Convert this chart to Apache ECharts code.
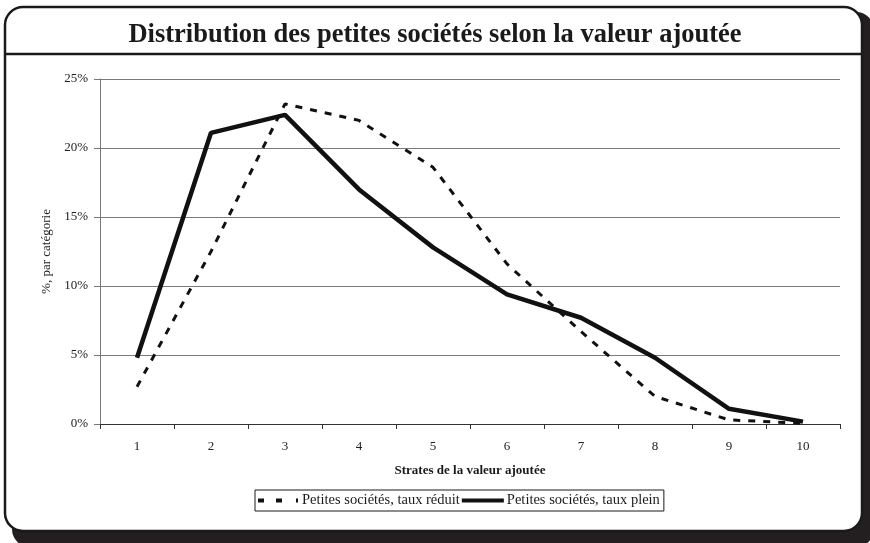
<!DOCTYPE html>
<html>
<head>
<meta charset="utf-8">
<script src="https://cdn.jsdelivr.net/npm/echarts@6/dist/echarts.min.js"></script>
<style>
  html, body { margin: 0; padding: 0; background: #fff; }
  #chart { width: 870px; height: 543px; }
</style>
</head>
<body>
<div id="chart"></div>
<script>
const categories = ['1', '2', '3', '4', '5', '6', '7', '8', '9', '10'];
const tauxReduit = [2.7, 12.5, 23.2, 22.0, 18.6, 11.6, 6.7, 2.0, 0.3, 0.05];
const tauxPlein = [4.8, 21.1, 22.4, 17.0, 12.8, 9.4, 7.7, 4.8, 1.1, 0.17];
const yTicks = { min: 0, max: 25, interval: 5 };

const serif = 'Liberation Serif, Times New Roman, serif';
const chart = echarts.init(document.getElementById('chart'));

// legend swatches: plain dashes / bar, no symbol dot
const dashIcon = 'path://M0,0H6V4H0Z M18,0H24V4H18Z M38,0H40V4H38Z';
const solidIcon = 'path://M0,0H44V4H0Z';

chart.setOption({
  animation: false,
  backgroundColor: '#fff',
  textStyle: { fontFamily: serif },
  title: {
    text: 'Distribution des petites sociétés selon la valeur ajoutée',
    left: 'center',
    top: 17,
    textStyle: { fontFamily: serif, fontSize: 26.5, fontWeight: 'bold', color: '#1a1a1a' },
  },
  graphic: [
    {
      type: 'rect',
      z: -20,
      shape: { x: 12, y: 12, width: 862, height: 535, r: 18 },
      style: { fill: '#231f20' },
    },
    {
      type: 'rect',
      z: -10,
      shape: { x: 5, y: 7, width: 857, height: 524, r: 18 },
      style: { fill: '#fff', stroke: '#1a1a1a', lineWidth: 2.5 },
    },
    {
      type: 'line',
      z: -5,
      shape: { x1: 5, y1: 54, x2: 862, y2: 54 },
      style: { stroke: '#1a1a1a', lineWidth: 2.5 },
    },
  ],
  grid: { left: 100, right: 30, top: 79, bottom: 119 },
  legend: {
    left: 255,
    top: 490,
    itemGap: 2,
    itemWidth: 42,
    itemHeight: 4,
    padding: [3, 4, 3, 3],
    borderColor: '#1a1a1a',
    borderWidth: 1,
    borderRadius: 0,
    textStyle: { fontFamily: serif, fontSize: 14.5, color: '#1a1a1a', padding: [0, 0, 0, -2] },
    data: [
      { name: 'Petites sociétés, taux réduit', icon: dashIcon, itemStyle: { color: '#111' } },
      { name: 'Petites sociétés, taux plein', icon: solidIcon, itemStyle: { color: '#111' } },
    ],
  },
  xAxis: {
    type: 'category',
    data: categories,
    boundaryGap: true,
    name: 'Strates de la valeur ajoutée',
    nameLocation: 'middle',
    nameGap: 40,
    nameTextStyle: { fontFamily: serif, fontSize: 13, fontWeight: 'bold', color: '#1a1a1a' },
    axisLine: { lineStyle: { color: '#333', width: 1 } },
    axisTick: { show: true, length: 5, lineStyle: { color: '#333' } },
    axisLabel: { fontFamily: serif, fontSize: 13, color: '#222', margin: 16 },
    splitLine: { show: false },
  },
  yAxis: {
    type: 'value',
    min: yTicks.min,
    max: yTicks.max,
    interval: yTicks.interval,
    name: '%, par catégorie',
    nameLocation: 'middle',
    nameGap: 47,
    nameTextStyle: { fontFamily: serif, fontSize: 13, color: '#222' },
    axisLine: { show: true, lineStyle: { color: '#777', width: 1 } },
    axisTick: { show: true, length: 6, lineStyle: { color: '#777' } },
    axisLabel: { fontFamily: serif, fontSize: 13, color: '#222', margin: 12, formatter: '{value}%' },
    splitLine: { show: true, lineStyle: { color: '#7a7a7a', width: 1 } },
  },
  series: [
    {
      name: 'Petites sociétés, taux réduit',
      type: 'line',
      data: tauxReduit,
      symbol: 'none',
      lineStyle: { color: '#111', width: 3, type: [7, 8] },
      itemStyle: { color: '#111' },
      z: 3,
    },
    {
      name: 'Petites sociétés, taux plein',
      type: 'line',
      data: tauxPlein,
      symbol: 'none',
      lineStyle: { color: '#111', width: 4.5 },
      itemStyle: { color: '#111' },
      z: 4,
    },
  ],
});
</script>
</body>
</html>
